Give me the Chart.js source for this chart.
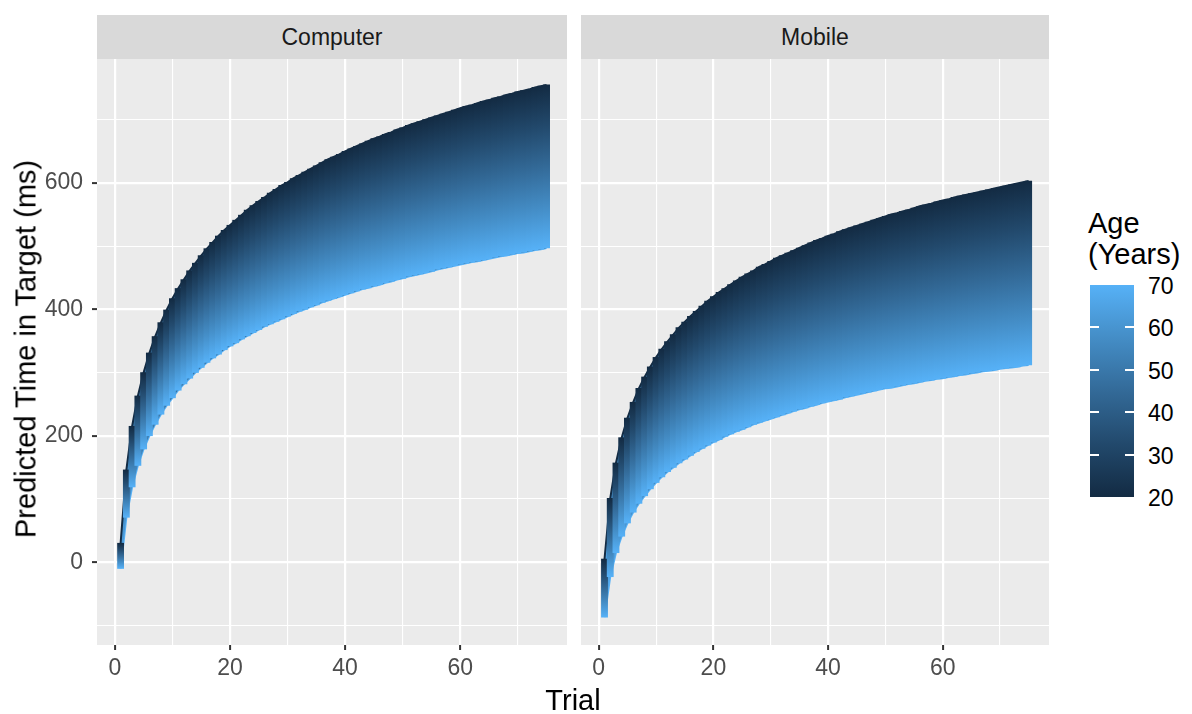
<!DOCTYPE html>
<html>
<head>
<meta charset="utf-8">
<script src="https://cdn.jsdelivr.net/npm/chart.js@4.4.0/dist/chart.umd.min.js"></script>
<style>
  body { margin: 0; width: 1192px; height: 714px; background: #fff; position: relative; overflow: hidden;
         font-family: "Liberation Sans", Arial, sans-serif; }
  canvas { position: absolute; }
  .strip { position: absolute; top: 15px; height: 44px; background: #d9d9d9; color: #1a1a1a;
           font-size: 23px; line-height: 44px; text-align: center; }
  .title { position: absolute; color: #000; font-size: 29px; white-space: nowrap; }
  #legend { position: absolute; left: 1088px; top: 208px; }
  #bar { position: absolute; left: 2px; top: 77px; width: 44px; height: 212px;
         background: linear-gradient(to bottom, #56B1F7, #448DC6, #336A98, #22496C, #132B43); }
  .tk { position: absolute; height: 2px; width: 9px; background: #fff; }
  .lab { position: absolute; left: 60px; font-size: 23px; color: #000; line-height: 26px; }
</style>
</head>
<body>
<div class="strip" style="left:97px;width:470px;">Computer</div>
<div class="strip" style="left:581px;width:468px;">Mobile</div>
<canvas id="chartComputer" width="567" height="655" style="left:0;top:59px;"></canvas>
<canvas id="chartMobile" width="468" height="655" style="left:581px;top:59px;"></canvas>
<div class="title" style="left:26px;top:349px;transform:translate(-50%,-50%) rotate(-90deg);">Predicted Time in Target (ms)</div>
<div class="title" style="left:573px;top:700px;transform:translate(-50%,-50%);">Trial</div>
<div id="legend">
  <div class="title" style="position:absolute;left:0;top:0;line-height:31px;">Age<br>(Years)</div>
  <div id="bar"></div>
</div>
<script>
  /* data */
  var trials = [1, 2, 3, 4, 5, 6, 7, 8, 9, 10, 11, 12, 13, 14, 15, 16, 17, 18, 19, 20,
    21, 22, 23, 24, 25, 26, 27, 28, 29, 30, 31, 32, 33, 34, 35, 36, 37, 38, 39, 40,
    41, 42, 43, 44, 45, 46, 47, 48, 49, 50, 51, 52, 53, 54, 55, 56, 57, 58, 59, 60,
    61, 62, 63, 64, 65, 66, 67, 68, 69, 70, 71, 72, 73, 74, 75];

  // age 20 (top edge) and age 70 (bottom edge) of each facet
  var computerAge20 = [30, 146, 215, 263, 300, 331, 357, 379, 399, 417, 433, 447, 461, 473, 485, 496, 506, 516, 525, 533,
    541, 549, 557, 564, 571, 577, 584, 590, 596, 601, 607, 612, 617, 622, 627, 632, 637, 641, 645, 650,
    654, 658, 662, 666, 670, 673, 677, 680, 684, 687, 691, 694, 697, 700, 703, 706, 709, 712, 715, 718,
    721, 723, 726, 729, 731, 734, 736, 739, 741, 744, 746, 748, 751, 753, 755];
  var computerAge70 = [-10, 71, 119, 153, 179, 200, 218, 234, 248, 260, 272, 282, 291, 300, 308, 316, 323, 329, 336, 342,
    347, 353, 358, 363, 368, 373, 377, 381, 385, 389, 393, 397, 400, 404, 407, 411, 414, 417, 420, 423,
    426, 429, 432, 434, 437, 439, 442, 444, 447, 449, 452, 454, 456, 458, 460, 463, 465, 467, 469, 471,
    473, 475, 476, 478, 480, 482, 484, 485, 487, 489, 490, 492, 494, 495, 497];
  var mobileAge20 = [5, 101, 157, 197, 228, 253, 275, 293, 309, 324, 337, 349, 360, 371, 380, 389, 397, 405, 413, 420,
    427, 433, 439, 445, 451, 456, 461, 467, 471, 476, 481, 485, 489, 493, 497, 501, 505, 509, 512, 516,
    519, 523, 526, 529, 532, 535, 538, 541, 544, 547, 550, 552, 555, 557, 560, 563, 565, 567, 570, 572,
    574, 577, 579, 581, 583, 585, 587, 589, 591, 593, 595, 597, 599, 601, 603];
  var mobileAge70 = [-87, -23, 15, 41, 62, 79, 93, 105, 116, 126, 135, 143, 150, 157, 163, 169, 175, 180, 185, 190,
    194, 199, 203, 207, 210, 214, 218, 221, 224, 227, 230, 233, 236, 239, 242, 244, 247, 249, 252, 254,
    256, 258, 261, 263, 265, 267, 269, 271, 273, 275, 276, 278, 280, 282, 283, 285, 287, 288, 290, 291,
    293, 294, 296, 297, 299, 300, 302, 303, 304, 306, 307, 308, 309, 311, 312];

  var xGrid = [0, 10, 20, 30, 40, 50, 60, 70];
  var xLabels = [0, 20, 40, 60];
  var yGrid = [-100, 0, 100, 200, 300, 400, 500, 600, 700];
  var yLabels = [0, 200, 400, 600];
  var ageTicks = [20, 30, 40, 50, 60, 70];

  var ageColors = ['#132B43', '#22496C', '#336A98', '#448DC6', '#56B1F7'];
  var fontFamily = '"Liberation Sans", Arial, sans-serif';

  function isMajor(c, list) {
    return !!(c && c.tick && list.indexOf(c.tick.value) >= 0);
  }

  /* each column shades from age 20 (top) to age 70 (bottom) */
  function ageGradient(c) {
    var chart = c.chart;
    if (!chart.chartArea || !c.raw) return ageColors[2];
    var y = chart.scales.y;
    var y0 = y.getPixelForValue(c.raw.y[1]);
    var y1 = y.getPixelForValue(c.raw.y[0]);
    if (y1 - y0 < 1) y1 = y0 + 1;
    var g = chart.ctx.createLinearGradient(0, y0, 0, y1);
    ageColors.forEach(function (col, i) {
      g.addColorStop(i / (ageColors.length - 1), col);
    });
    return g;
  }

  /* soft fill behind the columns so the thin early trials stay joined */
  function bandFill(c) {
    var chart = c.chart;
    if (!chart.chartArea) return ageColors[2];
    var y = chart.scales.y;
    var g = chart.ctx.createLinearGradient(0, y.getPixelForValue(600), 0, y.getPixelForValue(-100));
    g.addColorStop(0, '#1c3b58');
    g.addColorStop(1, '#56B1F7');
    return g;
  }

  var panelBg = {
    id: 'panelBg',
    beforeDraw: function (chart) {
      var a = chart.chartArea;
      chart.ctx.save();
      chart.ctx.fillStyle = '#ebebeb';
      chart.ctx.fillRect(a.left, a.top, a.right - a.left, a.bottom - a.top);
      chart.ctx.restore();
    }
  };

  function noPadding(s) {
    s.paddingTop = 0;
    s.paddingBottom = 0;
    s.paddingLeft = 0;
    s.paddingRight = 0;
  }

  function makeChart(id, top, bottom, showY) {
    var rows = trials.map(function (t, i) {
      return { x: t, y: [bottom[i], top[i]] };
    });
    var topPts = trials.map(function (t, i) { return { x: t, y: top[i] }; });
    var botPts = trials.map(function (t, i) { return { x: t, y: bottom[i] }; });
    return new Chart(document.getElementById(id).getContext('2d'), {
      type: 'bar',
      plugins: [panelBg],
      data: {
        datasets: [
          {
            data: rows,
            order: 0,
            backgroundColor: ageGradient,
            borderWidth: 0,
            barThickness: 6.2,
          },
          {
            type: 'line',
            data: topPts,
            order: 1,
            borderColor: '#132B43',
            borderWidth: 2,
            pointRadius: 0,
            fill: '+1',
            backgroundColor: bandFill,
          },
          {
            type: 'line',
            data: botPts,
            order: 1,
            borderColor: '#56B1F7',
            borderWidth: 2,
            pointRadius: 0,
            fill: false,
          },
        ],
      },
      options: {
        responsive: false,
        animation: false,
        devicePixelRatio: 1,
        layout: { padding: 0 },
        plugins: { legend: { display: false }, tooltip: { enabled: false } },
        scales: {
          x: {
            type: 'linear',
            offset: false,
            min: -3.1,
            max: 78.55,
            afterBuildTicks: function (s) { s.ticks = xGrid.map(function (v) { return { value: v }; }); },
            afterFit: function (s) { s.height = 69; noPadding(s); },
            border: { display: false },
            grid: {
              offset: false,
              color: '#ffffff',
              lineWidth: function (c) { return isMajor(c, xLabels) ? 2.2 : 1.1; },
              tickLength: 5,
              tickWidth: 2,
              tickColor: function (c) { return isMajor(c, xLabels) ? '#333333' : 'rgba(0,0,0,0)'; },
            },
            ticks: {
              autoSkip: false,
              maxRotation: 0,
              padding: 5,
              color: '#4d4d4d',
              font: { size: 23, family: fontFamily },
              callback: function (v) { return xLabels.indexOf(v) >= 0 ? String(v) : ''; },
            },
          },
          y: {
            min: -131,
            max: 796,
            afterBuildTicks: function (s) { s.ticks = yGrid.map(function (v) { return { value: v }; }); },
            afterFit: function (s) { s.width = showY ? 97 : 0; noPadding(s); },
            border: { display: false },
            grid: {
              color: '#ffffff',
              lineWidth: function (c) { return isMajor(c, yLabels) ? 2.2 : 1.1; },
              drawTicks: showY,
              tickLength: 5,
              tickWidth: 2,
              tickColor: function (c) { return isMajor(c, yLabels) ? '#333333' : 'rgba(0,0,0,0)'; },
            },
            ticks: {
              display: showY,
              autoSkip: false,
              padding: 9,
              color: '#4d4d4d',
              font: { size: 23, family: fontFamily },
              callback: function (v) { return yLabels.indexOf(v) >= 0 ? String(v) : ''; },
            },
          },
        },
      },
    });
  }

  makeChart('chartComputer', computerAge20, computerAge70, true);
  makeChart('chartMobile', mobileAge20, mobileAge70, false);

  /* colour bar ticks and labels */
  var legend = document.getElementById('legend');
  var barTop = 77, barH = 212;
  ageTicks.forEach(function (age) {
    var y = barTop + (70 - age) / 50 * barH;
    if (age > 20 && age < 70) {
      ['2px', '37px'].forEach(function (left) {
        var t = document.createElement('div');
        t.className = 'tk';
        t.style.left = left;
        t.style.top = (y - 1) + 'px';
        legend.appendChild(t);
      });
    }
    var l = document.createElement('div');
    l.className = 'lab';
    l.style.top = (y - 12) + 'px';
    l.textContent = age;
    legend.appendChild(l);
  });
</script>
</body>
</html>
